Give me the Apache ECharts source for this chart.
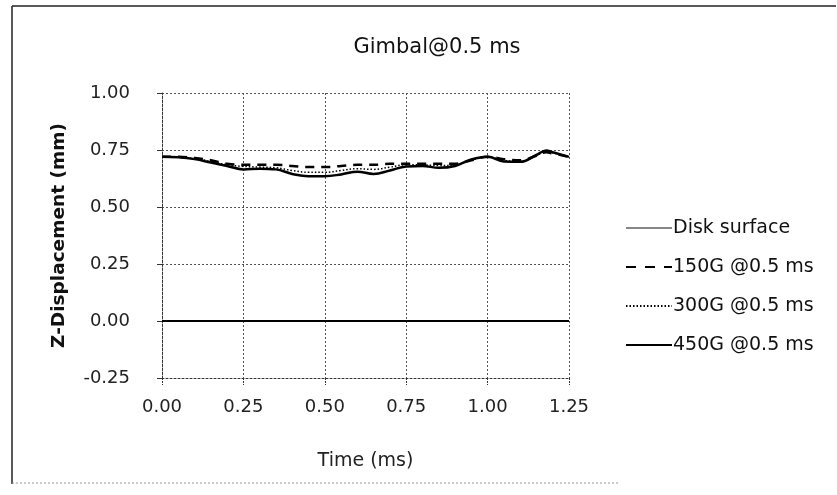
<!DOCTYPE html>
<html><head><meta charset="utf-8">
<script src="https://cdn.jsdelivr.net/npm/echarts@6/dist/echarts.min.js"></script>
<style>html,body{margin:0;padding:0;background:#fff}#c{width:837px;height:495px}</style>
</head><body><div id="c"></div>
<script>
var times = [0,0.05,0.1,0.15,0.2,0.25,0.3,0.35,0.4,0.45,0.5,0.55,0.6,0.65,0.7,0.75,0.8,0.85,0.9,0.95,1.0,1.05,1.1,1.15,1.18,1.2,1.25];
var diskSurface = [0,0,0,0,0,0,0,0,0,0,0,0,0,0,0,0,0,0,0,0,0,0,0,0,0,0,0];
var g150 = [0.72,0.72,0.715,0.705,0.69,0.685,0.685,0.685,0.68,0.675,0.675,0.68,0.685,0.685,0.69,0.69,0.69,0.69,0.69,0.705,0.72,0.71,0.705,0.725,0.74,0.735,0.72];
var g300 = [0.72,0.72,0.712,0.70,0.685,0.678,0.675,0.672,0.66,0.652,0.652,0.66,0.668,0.665,0.675,0.685,0.685,0.682,0.685,0.705,0.72,0.705,0.70,0.725,0.745,0.738,0.72];
var g450 = [0.72,0.718,0.71,0.695,0.68,0.665,0.668,0.665,0.645,0.635,0.635,0.643,0.655,0.645,0.66,0.678,0.68,0.672,0.68,0.708,0.72,0.70,0.698,0.728,0.748,0.74,0.72];
var yTicks = [-0.25,0,0.25,0.5,0.75,1.0];
var xTicks = [0,0.25,0.5,0.75,1.0,1.25];
var names = ['Disk surface','150G @0.5 ms','300G @0.5 ms','450G @0.5 ms'];

function pairs(v){return times.map(function(t,i){return [t,v[i]];});}
var chart = echarts.init(document.getElementById('c'));
var F = 'DejaVu Sans';
var styles = [
  {type:'solid', width:2},
  {type:[9,7], width:2.5},
  {type:[1.5,2], width:1.5},
  {type:'solid', width:2.5}
];
var datas = [diskSurface,g150,g300,g450];
var series = names.map(function(n,i){
  return {name:n,type:'line',data:pairs(datas[i]),showSymbol:false,symbol:'none',symbolSize:0,smooth:0.4,
    lineStyle:{color:'#000',width:styles[i].width,type:styles[i].type},itemStyle:{color:'#000'},z:10-i};
});
chart.setOption({
  animation:false,
  title:{text:'Gimbal@0.5 ms',left:432,top:32,textAlign:'center',textStyle:{fontFamily:F,fontSize:21,fontWeight:'normal',color:'#111'}},
  grid:{left:162,right:268,top:93,bottom:117},
  legend:{orient:'vertical',left:620,top:213,itemGap:19,itemWidth:46,itemHeight:14,
    itemStyle:{opacity:0},
    textStyle:{fontFamily:F,fontSize:19,color:'#111',lineHeight:20,padding:[0,0,0,-4]},
    data:names.map(function(n,i){
      if(i===0) return {name:n,lineStyle:{width:1.2,color:'#111'}};
      if(i===1) return {name:n,lineStyle:{type:[10,9]}};
      return {name:n};
    })},
  xAxis:{type:'value',min:0,max:1.25,interval:0.25,
    name:'Time (ms)',nameLocation:'middle',nameGap:74,
    nameTextStyle:{fontFamily:F,fontSize:19,color:'#222'},
    axisLine:{show:true,onZero:false,lineStyle:{color:'#333',type:[2,2],width:1}},
    axisTick:{show:true,length:7,lineStyle:{color:'#333',type:[2,1]}},
    axisLabel:{fontFamily:F,fontSize:18,color:'#222',margin:20,formatter:function(v){return v.toFixed(2);}},
    splitLine:{show:true,lineStyle:{color:'#555',type:[2,2],width:1}}},
  yAxis:{type:'value',min:-0.25,max:1,interval:0.25,
    name:'Z-Displacement (mm)',nameLocation:'middle',nameGap:93,
    nameTextStyle:{fontFamily:F,fontSize:18.5,fontWeight:'bold',color:'#111'},
    axisLine:{show:true,onZero:false,lineStyle:{color:'#333',type:[2,2],width:1}},
    axisTick:{show:true,length:5,lineStyle:{color:'#333'}},
    axisLabel:{fontFamily:F,fontSize:18,color:'#222',margin:32,formatter:function(v){return v.toFixed(2);}},
    splitLine:{show:true,lineStyle:{color:'#555',type:[2,2],width:1}}},
  series:series,
  graphic:[
    {type:'line',shape:{x1:12,y1:6,x2:836,y2:6},style:{stroke:'#222',lineWidth:1.5}},
    {type:'line',shape:{x1:12,y1:6,x2:12,y2:484},style:{stroke:'#222',lineWidth:1.5}},
    {type:'line',shape:{x1:12,y1:483,x2:620,y2:483},style:{stroke:'#999',lineWidth:1,lineDash:[2,2]}}
  ]
});
</script></body></html>
